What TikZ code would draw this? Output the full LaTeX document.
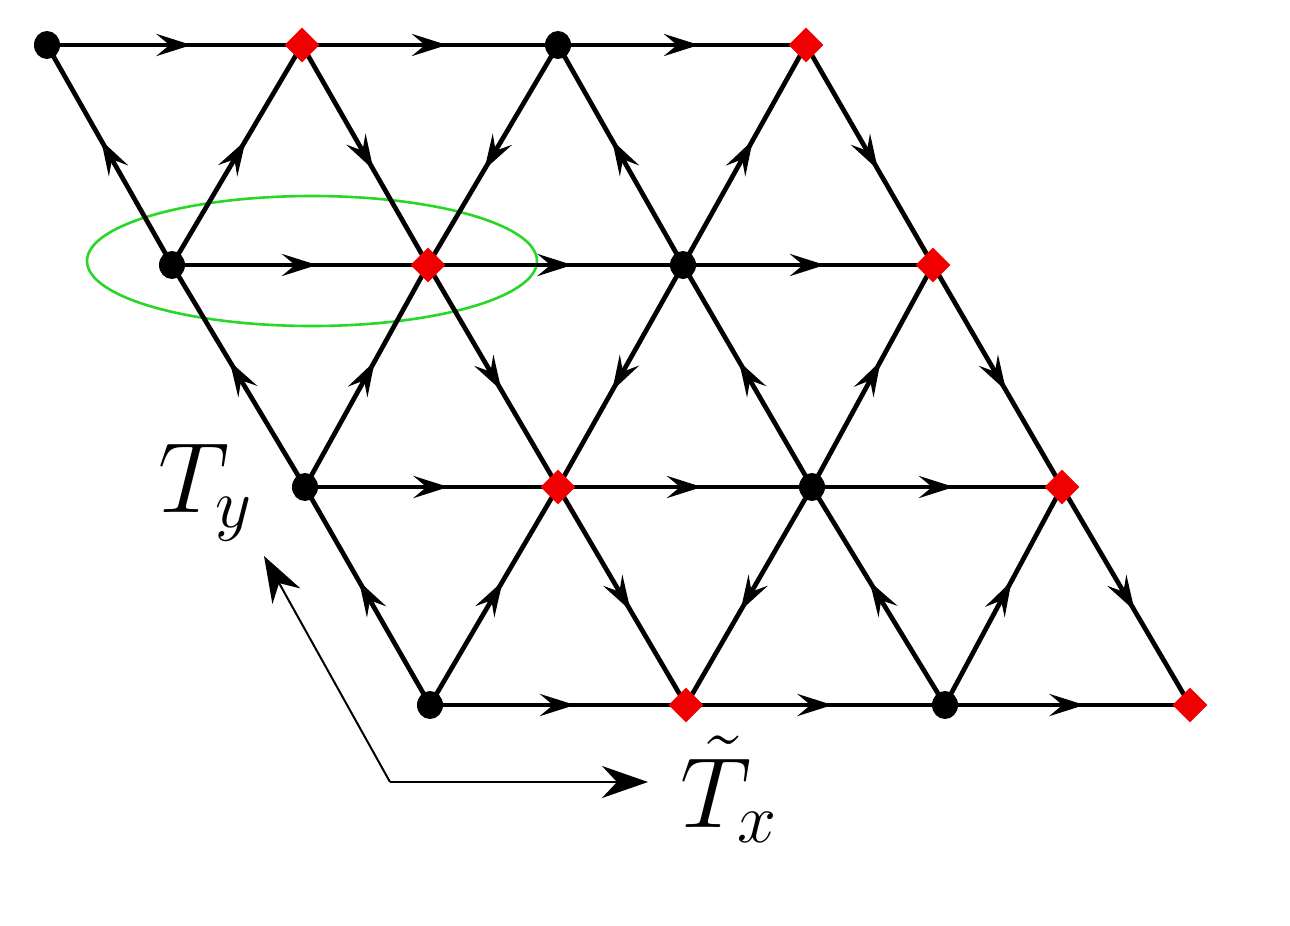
\RequirePackage{fix-cm}
\documentclass[tikz,border=0pt]{standalone}
\usetikzlibrary{arrows.meta,decorations.markings,shapes.geometric,backgrounds}
\definecolor{ringgreen}{RGB}{40,215,40}
\definecolor{diared}{RGB}{240,0,0}
\begin{document}
\begin{tikzpicture}[x=1pt,y=-1pt,
  ed/.style={line width=4.7pt, postaction={decorate},
    decoration={markings, mark=at position 0.5 with {\pgftransformxshift{17pt}\arrow{Stealth[length=35pt,width=22pt,inset=13pt]}}}},
  blk/.style={ellipse, fill=black, inner sep=0pt, minimum width=26pt, minimum height=28pt},
  dia/.style={diamond, fill=diared, inner sep=0pt, minimum width=35pt, minimum height=35pt},
  axisline/.style={line width=2pt, -{Stealth[length=46pt,width=32pt,inset=15pt]}},
  lab/.style={inner sep=0pt, font=\fontsize{100}{110}\selectfont}
]
\useasboundingbox (0,0) rectangle (1290,926);
% lattice nodes (column i, row j)
\foreach \px/\i in {47/0,302/1,558/2,806/3}{\ifodd\i\node[dia] (n-\i-0) at (\px,45) {};\else\node[blk] (n-\i-0) at (\px,45) {};\fi}
\foreach \px/\i in {172/0,428/1,683/2,933/3}{\ifodd\i\node[dia] (n-\i-1) at (\px,265) {};\else\node[blk] (n-\i-1) at (\px,265) {};\fi}
\foreach \px/\i in {305/0,558/1,812/2,1062/3}{\ifodd\i\node[dia] (n-\i-2) at (\px,487) {};\else\node[blk] (n-\i-2) at (\px,487) {};\fi}
\foreach \px/\i in {430/0,686/1,945/2,1190/3}{\ifodd\i\node[dia] (n-\i-3) at (\px,705) {};\else\node[blk] (n-\i-3) at (\px,705) {};\fi}
\begin{scope}[on background layer]
\node[ellipse, draw=ringgreen, line width=2.6pt, minimum width=450pt, minimum height=130pt, inner sep=0pt] (ring) at (312,261) {};
% horizontal edges
\foreach \j in {0,1,2,3}{
  \draw[ed] (n-0-\j.center) -- (n-1-\j.center);
  \draw[ed] (n-1-\j.center) -- (n-2-\j.center);
  \draw[ed] (n-2-\j.center) -- (n-3-\j.center);
}
% diagonal edges
\foreach \j/\k in {0/1,1/2,2/3}{
  \draw[ed] (n-0-\k.center) -- (n-0-\j.center);
  \draw[ed] (n-0-\k.center) -- (n-1-\j.center);
  \draw[ed] (n-1-\j.center) -- (n-1-\k.center);
  \draw[ed] (n-2-\j.center) -- (n-1-\k.center);
  \draw[ed] (n-2-\k.center) -- (n-2-\j.center);
  \draw[ed] (n-2-\k.center) -- (n-3-\j.center);
  \draw[ed] (n-3-\j.center) -- (n-3-\k.center);
}
\end{scope}
% axes
\coordinate (corner) at (390,782);
\coordinate (tyend) at (264,556);
\coordinate (txend) at (648,782);
\draw[axisline] (corner) -- (tyend);
\draw[axisline] (corner) -- (txend);
\node[lab, anchor=base west] (ty) at (158,512) {$T_y$};
\node[lab, anchor=base west] (tx) at (680,827) {$\tilde{T}_x$};
\end{tikzpicture}
\end{document}
